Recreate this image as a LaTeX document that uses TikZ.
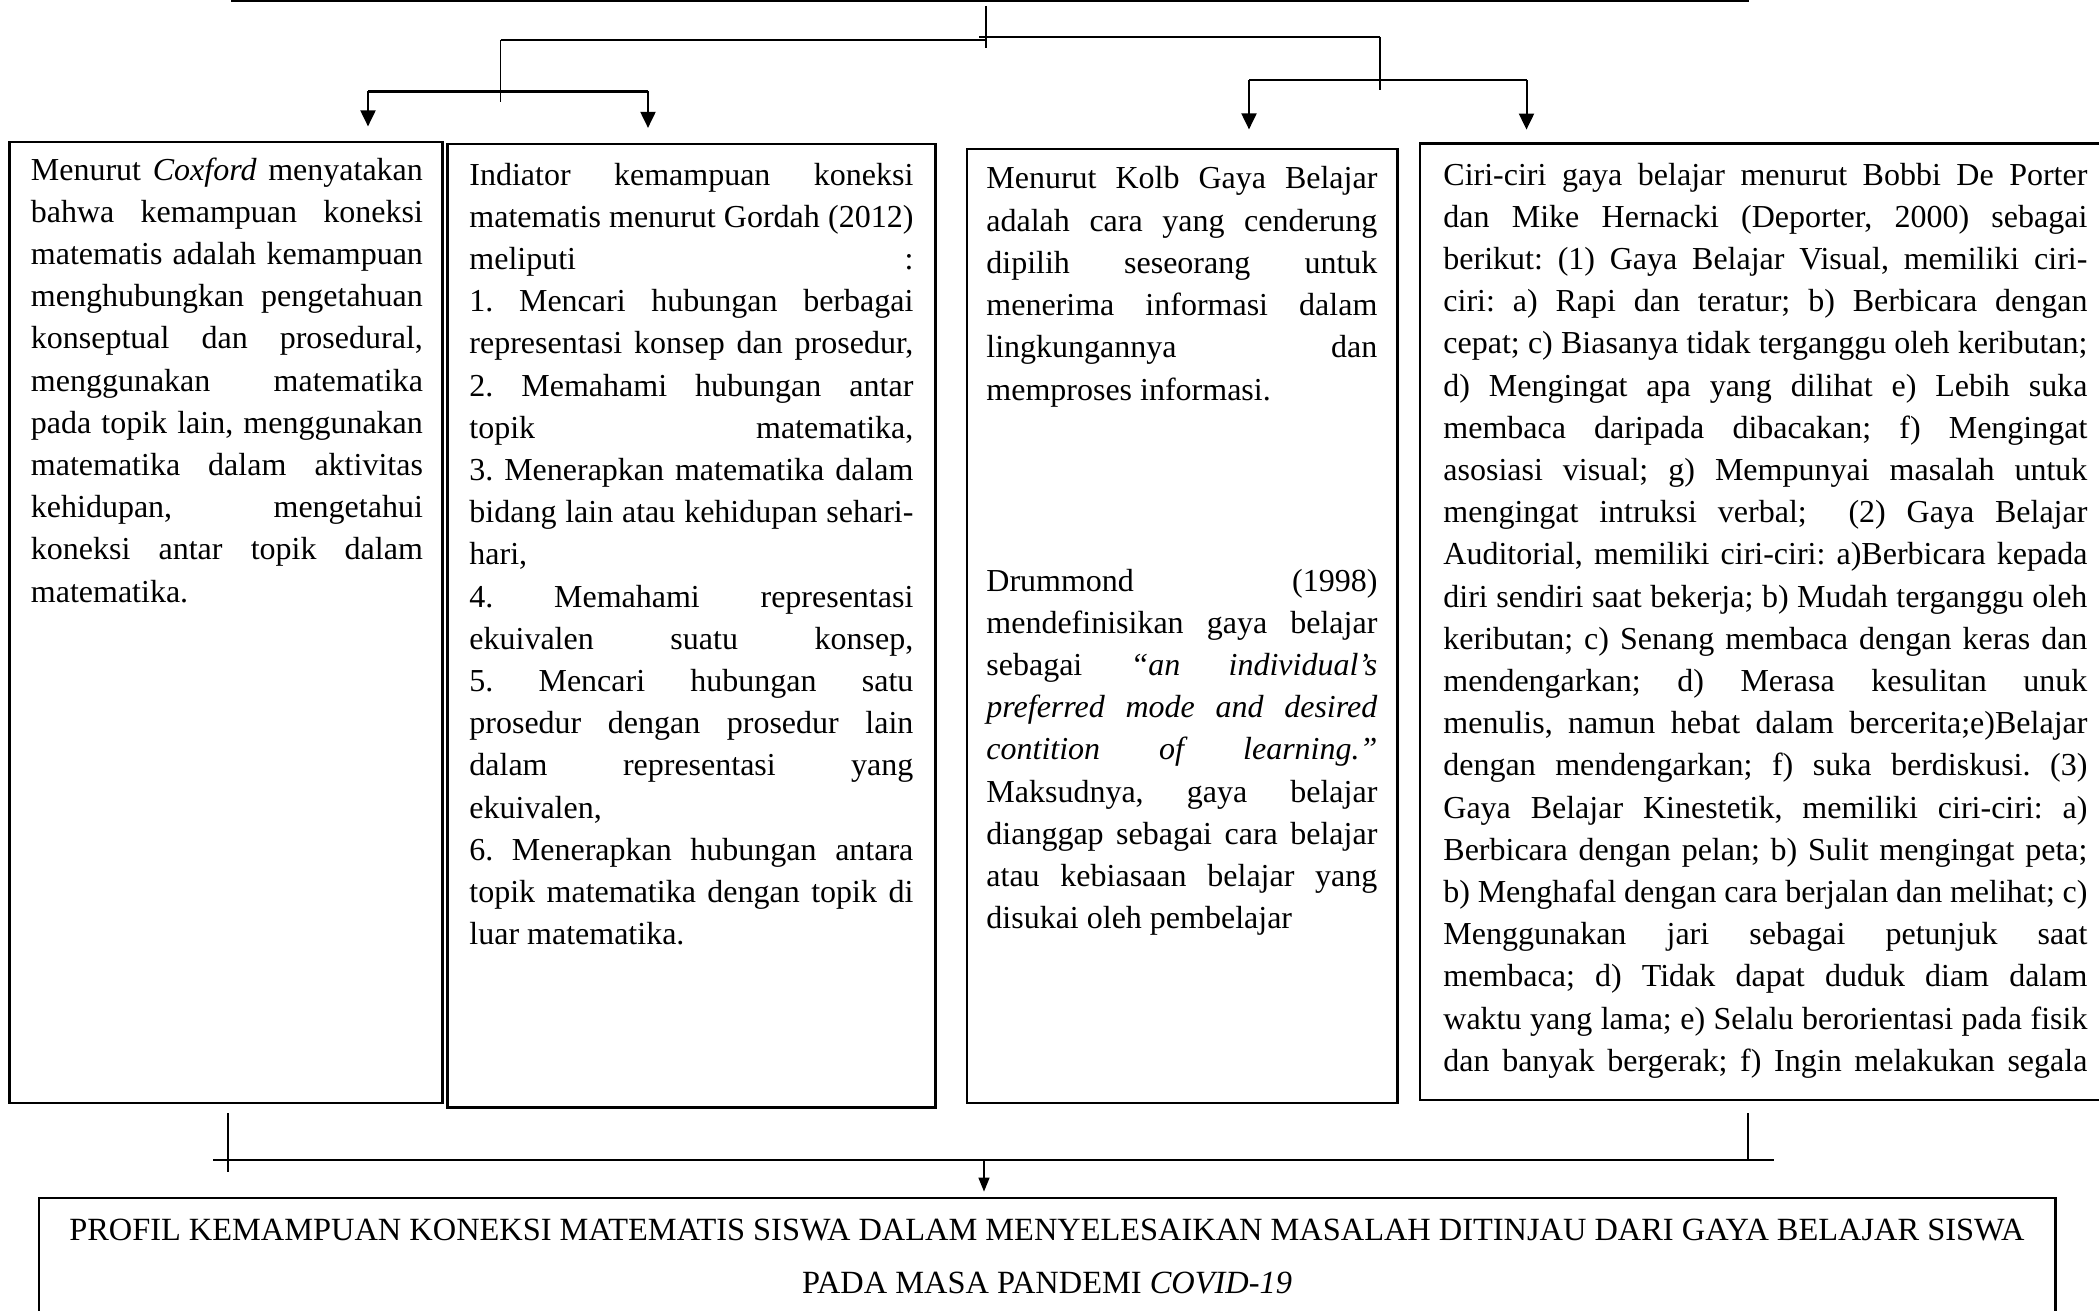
\documentclass[tikz,border=0pt]{standalone}
\usepackage{fontspec}
\setmainfont{Liberation Serif}
\usetikzlibrary{arrows.meta,fit}
\newcommand\jline[1]{\makebox[\linewidth][s]{#1}\par}
\newcommand\lline[1]{#1\par}
\frenchspacing
\begin{document}
\frenchspacing
\begin{tikzpicture}[x=0.5pt,y=-0.5pt,
  box/.style={draw, line width=1.1pt, inner sep=0pt},
  openbox/.style={draw=none, inner sep=0pt},
  boxline/.style={line width=1.1pt},
  thinln/.style={line width=0.65pt},
  thickln/.style={line width=1.25pt},
  arr/.style={line width=1pt, -{Triangle[length=8pt,width=7.5pt]}},
  arrsmall/.style={line width=0.7pt, -{Triangle[length=7pt,width=5.5pt]}},
  txt/.style={inner sep=0pt, anchor=base west, font=\fontsize{16pt}{21.1pt}\selectfont\frenchspacing},
  ctxt/.style={inner sep=0pt, anchor=base, font=\fontsize{16.2pt}{21.1pt}\selectfont\frenchspacing}]
\useasboundingbox (0,0) rectangle (2099,1311);

% ---------- boxes ----------
\node[box, fit={(9.5,142) (442.5,1103)}] (b1) {};
\node[box, fit={(447.5,144) (935.5,1107.5)}] (b2) {};
\node[box, fit={(967,149) (1397.5,1103)}] (b3) {};
\node[openbox, fit={(1420,144) (2099,1099.5)}] (b4) {};
\draw[boxline] (b4.north east) -- (b4.north west) -- (b4.south west) -- (b4.south east);
\node[openbox, fit={(39.5,1198) (2055,1311)}] (b5) {};
\draw[boxline] (b5.south west) -- (b5.north west) -- (b5.north east) -- (b5.south east);

% ---------- texts ----------
\node[txt] (t1) at (30.5,180) {\parbox[t]{196pt}{%
\jline{Menurut \textit{Coxford} menyatakan}
\jline{bahwa kemampuan koneksi}
\jline{matematis adalah kemampuan}
\jline{menghubungkan pengetahuan}
\jline{konseptual dan prosedural,}
\jline{menggunakan matematika}
\jline{pada topik lain, menggunakan}
\jline{matematika dalam aktivitas}
\jline{kehidupan, mengetahui}
\jline{koneksi antar topik dalam}
\lline{matematika.}}};

\node[txt] (t2) at (469,185) {\parbox[t]{222pt}{%
\jline{Indiator kemampuan koneksi}
\jline{matematis menurut Gordah (2012)}
\jline{meliputi :}
\jline{1. Mencari hubungan berbagai}
\jline{representasi konsep dan prosedur,}
\jline{2. Memahami hubungan antar}
\jline{topik matematika,}
\jline{3. Menerapkan matematika dalam}
\jline{bidang lain atau kehidupan sehari-}
\lline{hari,}
\jline{4. Memahami representasi}
\jline{ekuivalen suatu konsep,}
\jline{5. Mencari hubungan satu}
\jline{prosedur dengan prosedur lain}
\jline{dalam representasi yang}
\lline{ekuivalen,}
\jline{6. Menerapkan hubungan antara}
\jline{topik matematika dengan topik di}
\lline{luar matematika.}}};

\node[txt] (t3a) at (986,189) {\parbox[t]{195.5pt}{%
\jline{Menurut Kolb Gaya Belajar}
\jline{adalah cara yang cenderung}
\jline{dipilih seseorang untuk}
\jline{menerima informasi dalam}
\jline{lingkungannya dan}
\lline{memproses informasi.}}};

\node[txt] (t3b) at (986,591) {\parbox[t]{195.5pt}{%
\jline{Drummond (1998)}
\jline{mendefinisikan gaya belajar}
\jline{sebagai \textit{“an individual’s}}
\jline{\textit{preferred mode and desired}}
\jline{\textit{contition of learning.”}}
\jline{Maksudnya, gaya belajar}
\jline{dianggap sebagai cara belajar}
\jline{atau kebiasaan belajar yang}
\lline{disukai oleh pembelajar}}};

\node[txt] (t4) at (1443,185) {\parbox[t]{322pt}{%
\jline{Ciri-ciri gaya belajar menurut Bobbi De Porter}
\jline{dan Mike Hernacki (Deporter, 2000) sebagai}
\jline{berikut: (1) Gaya Belajar Visual, memiliki ciri-}
\jline{ciri: a) Rapi dan teratur; b) Berbicara dengan}
\jline{cepat; c) Biasanya tidak terganggu oleh keributan;}
\jline{d) Mengingat apa yang dilihat e) Lebih suka}
\jline{membaca daripada dibacakan; f) Mengingat}
\jline{asosiasi visual; g) Mempunyai masalah untuk}
\jline{mengingat intruksi verbal;\ \ (2) Gaya Belajar}
\jline{Auditorial, memiliki ciri-ciri: a)Berbicara kepada}
\jline{diri sendiri saat bekerja; b) Mudah terganggu oleh}
\jline{keributan; c) Senang membaca dengan keras dan}
\jline{mendengarkan; d) Merasa kesulitan unuk}
\jline{menulis, namun hebat dalam bercerita;e)Belajar}
\jline{dengan mendengarkan; f) suka berdiskusi. (3)}
\jline{Gaya Belajar Kinestetik, memiliki ciri-ciri: a)}
\jline{Berbicara dengan pelan; b) Sulit mengingat peta;}
\jline{b) Menghafal dengan cara berjalan dan melihat; c)}
\jline{Menggunakan jari sebagai petunjuk saat}
\jline{membaca; d) Tidak dapat duduk diam dalam}
\jline{waktu yang lama; e) Selalu berorientasi pada fisik}
\jline{dan banyak bergerak; f) Ingin melakukan segala}}};

\node[ctxt] (t5a) at (1047,1240) {PROFIL KEMAMPUAN KONEKSI MATEMATIS SISWA DALAM MENYELESAIKAN MASALAH DITINJAU DARI GAYA BELAJAR SISWA};
\node[ctxt] (t5b) at (1047,1293) {PADA MASA PANDEMI \textit{COVID-19}};

% ---------- top connectors ----------
\coordinate (topL) at (231,1);
\coordinate (topR) at (1749,1);
\draw[thickln] (topL) -- (topR);
\coordinate (c0) at (986,6);
\coordinate (c1) at (986,48);
\draw[thinln] (c0) -- (c1);
\coordinate (jl) at (500.5,40);
\coordinate (jlb) at (500.5,102);
\coordinate (jr0) at (979,37);
\coordinate (jr) at (1380,37);
\coordinate (jrb) at (1380,90);
\draw[thinln] (jl) -- (jl -| c0);
\draw[thinln] (jr0) -- (jr);
\draw[thinln] (jl) -- (jlb);
\draw[thinln] (jr) -- (jrb);

% left T with arrows
\coordinate (tl) at (500.5,91.5);
\coordinate (a1) at (368,91.5);
\coordinate (a2) at (648,91.5);
\draw[thickln] (a1) -- (a2);
\draw[arr, shorten >=7.25pt] (a1) -- (a1 |- b1.north);
\draw[arr, shorten >=7.5pt] (a2) -- (a2 |- b2.north);

% right T with arrows
\coordinate (tr) at (1380,80);
\coordinate (a3) at (1249,80);
\coordinate (a4) at (1526.5,80);
\draw[thickln] (a3) -- (a4);
\draw[arr, shorten >=9.25pt] (a3) -- (a3 |- b3.north);
\draw[arr, shorten >=7pt] (a4) -- (a4 |- b4.north);

% ---------- bottom connectors ----------
\coordinate (bl0) at (228,1113);
\coordinate (bl1) at (228,1172);
\coordinate (br0) at (1748,1113);
\coordinate (br1) at (1748,1159);
\coordinate (hL) at (213,1160);
\coordinate (hR) at (1774,1160);
\coordinate (ab) at (984,1160);
\draw[thinln] (bl0) -- (bl1);
\draw[thinln] (br0) -- (br1);
\draw[line width=0.8pt] (hL) -- (hR);
\draw[arrsmall, shorten >=3pt] (ab) -- (ab |- b5.north);
\end{tikzpicture}
\end{document}
